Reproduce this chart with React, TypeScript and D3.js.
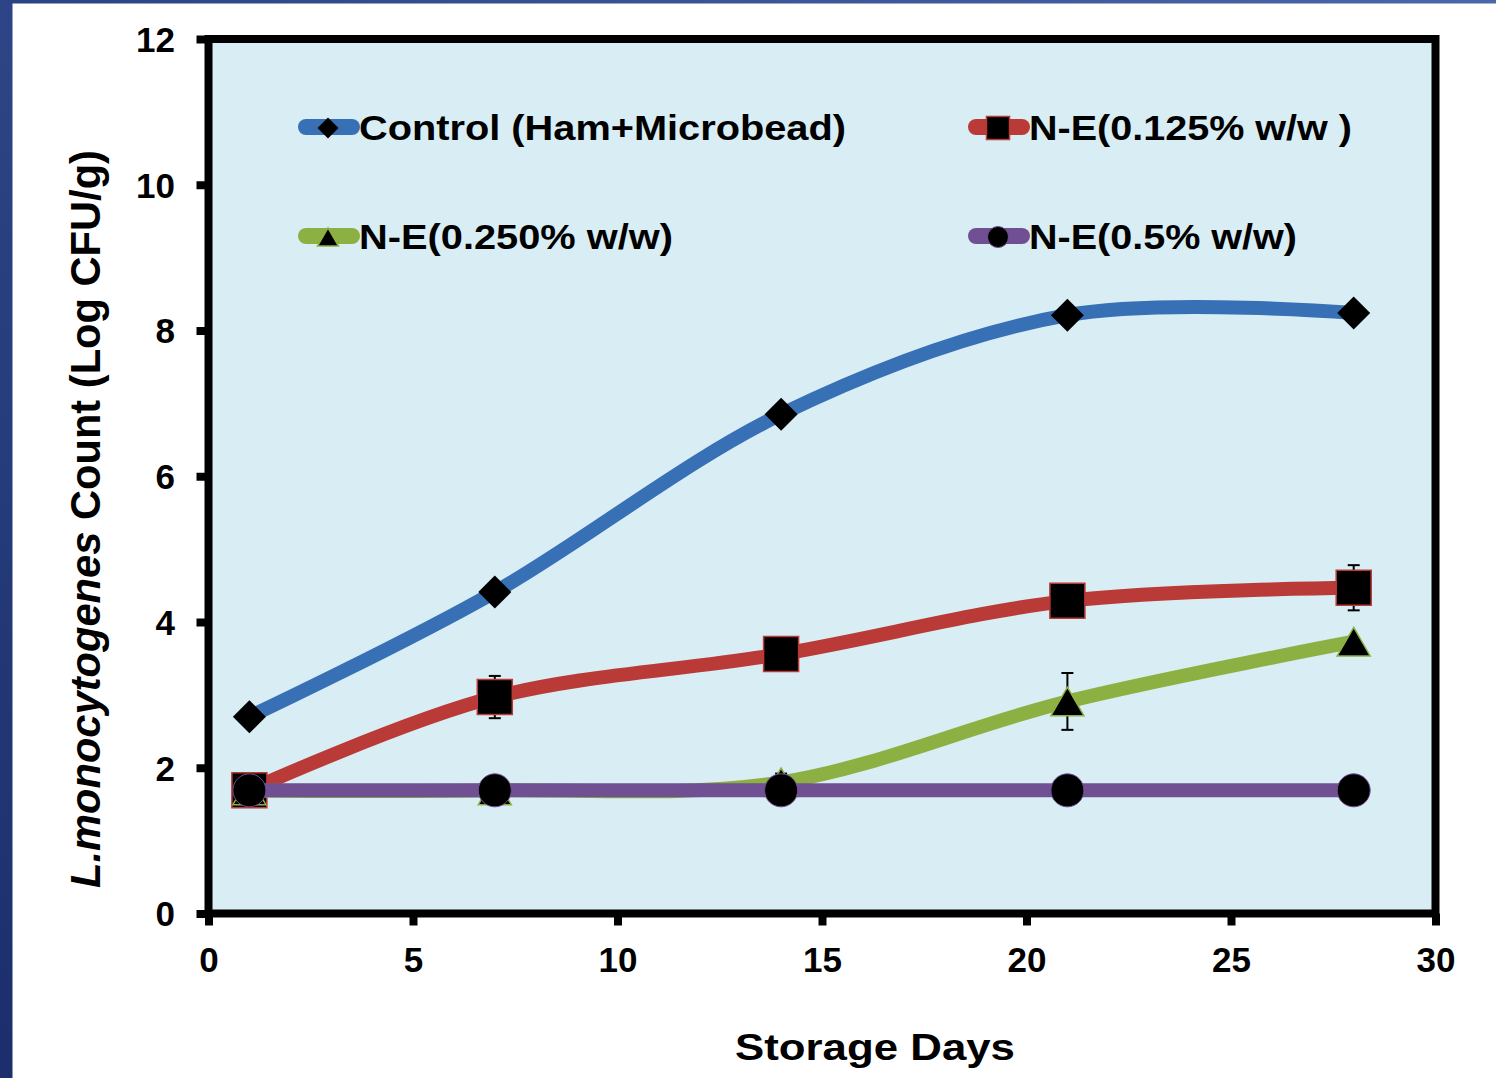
import { useEffect, useRef } from 'react';
import * as d3 from 'd3';

const WIDTH = 1496;
const HEIGHT = 1078;
const MARGIN = { top: 39, right: 60.5, bottom: 164.5, left: 208.5 };
const FONT = '"Liberation Sans", Arial, sans-serif';

// data
const days = [1, 7, 14, 21, 28];
const control = [2.7, 4.41, 6.85, 8.21, 8.24];
const ne0125 = [1.69, 2.97, 3.56, 4.29, 4.47];
const ne0125Err = [0, 0.29, 0, 0, 0.31];
const ne0250 = [1.69, 1.69, 1.8, 2.91, 3.73];
const ne0250Err = [0, 0, 0.12, 0.39, 0];
const ne05 = [1.69, 1.69, 1.69, 1.69, 1.69];

const xTicks = [0, 5, 10, 15, 20, 25, 30];
const yTicks = [0, 2, 4, 6, 8, 10, 12];

const color = {
  plotBg: '#d9edf4',
  blue: '#3870b6',
  red: '#b93a36',
  green: '#8cb042',
  purple: '#704f92',
};

type Shape = 'diamond' | 'square' | 'triangle' | 'circle';

type Series = {
  name: string;
  values: number[];
  errors: number[] | null;
  color: string;
  shape: Shape;
  legend: { x: number; y: number; textWidth: number };
};

const series: Series[] = [
  { name: 'Control (Ham+Microbead)', values: control, errors: null, color: color.blue, shape: 'diamond', legend: { x: 298, y: 127, textWidth: 487 } },
  { name: 'N-E(0.125% w/w )', values: ne0125, errors: ne0125Err, color: color.red, shape: 'square', legend: { x: 968, y: 127, textWidth: 323 } },
  { name: 'N-E(0.250% w/w)', values: ne0250, errors: ne0250Err, color: color.green, shape: 'triangle', legend: { x: 298, y: 236, textWidth: 314 } },
  { name: 'N-E(0.5% w/w)', values: ne05, errors: null, color: color.purple, shape: 'circle', legend: { x: 968, y: 236, textWidth: 268 } },
];

// marker widths in px: plot / legend
const markerWidth = { plot: 33, legend: 21 };

function Marker({ shape, cx, cy, w, stroke }: { shape: Shape; cx: number; cy: number; w: number; stroke: string }) {
  if (shape === 'diamond') {
    const side = w / Math.SQRT2;
    const d = d3.symbol(d3.symbolSquare, side * side)() || '';
    return <path d={d} transform={`translate(${cx},${cy}) rotate(45)`} fill="#000" />;
  }
  if (shape === 'square') {
    const s = w + 2;
    const d = d3.symbol(d3.symbolSquare, s * s)() || '';
    return <path d={d} transform={`translate(${cx},${cy})`} fill="#000" stroke={stroke} strokeWidth={1.5} />;
  }
  if (shape === 'triangle') {
    const r = w / (2 * Math.sqrt(3));
    const d = d3.symbol(d3.symbolTriangle, r * r * 3 * Math.sqrt(3))() || '';
    return <path d={d} transform={`translate(${cx},${cy + r * 0.5})`} fill="#000" stroke={stroke} strokeWidth={1.5} />;
  }
  const d = d3.symbol(d3.symbolCircle, Math.PI * (w / 2) * (w / 2))() || '';
  return <path d={d} transform={`translate(${cx},${cy})`} fill="#000" stroke={stroke} strokeWidth={1} />;
}

const App = () => {
  const xAxisRef = useRef<SVGGElement>(null);
  const yAxisRef = useRef<SVGGElement>(null);

  const boundsWidth = WIDTH - MARGIN.left - MARGIN.right;
  const boundsHeight = HEIGHT - MARGIN.top - MARGIN.bottom;

  const xScale = d3.scaleLinear().domain([0, 30]).range([0, boundsWidth]);
  const yScale = d3.scaleLinear().domain([0, 12]).range([boundsHeight, 0]);

  const line = d3
    .line<number>()
    .curve(d3.curveCardinal.tension(0))
    .x((_, i) => xScale(days[i]))
    .y(v => yScale(v));

  useEffect(() => {
    const xAxis = d3.select(xAxisRef.current);
    xAxis.selectAll('*').remove();
    xAxis.call(d3.axisBottom(xScale).tickValues(xTicks).tickSize(12).tickSizeOuter(0));
    xAxis.select('.domain').remove();
    xAxis.selectAll('.tick line').attr('stroke', '#000').attr('stroke-width', 8);
    xAxis
      .selectAll('.tick text')
      .attr('y', 46.5)
      .attr('dy', '0.35em')
      .attr('fill', '#000')
      .attr('font-family', FONT)
      .attr('font-weight', 700)
      .attr('font-size', 35);

    const yAxis = d3.select(yAxisRef.current);
    yAxis.selectAll('*').remove();
    yAxis.call(d3.axisLeft(yScale).tickValues(yTicks).tickSize(12).tickSizeOuter(0));
    yAxis.select('.domain').remove();
    yAxis.selectAll('.tick line').attr('stroke', '#000').attr('stroke-width', 8);
    yAxis
      .selectAll('.tick text')
      .attr('x', -33.5)
      .attr('dy', '0.35em')
      .attr('fill', '#000')
      .attr('font-family', FONT)
      .attr('font-weight', 700)
      .attr('font-size', 35);
  }, []);

  return (
    <div style={{ position: 'absolute', left: 0, top: 0 }}>
      <svg width={WIDTH} height={HEIGHT} style={{ display: 'block', background: '#fff' }}>
        <defs>
          <linearGradient id="leftBand" x1="0" x2="0" y1="0" y2="1">
            <stop offset="0" stopColor="#2d4586" />
            <stop offset="1" stopColor="#1c2e6c" />
          </linearGradient>
          <linearGradient id="topBand" x1="0" x2="1" y1="0" y2="0">
            <stop offset="0" stopColor="#2c4383" />
            <stop offset="1" stopColor="#4a67a8" />
          </linearGradient>
        </defs>
        <rect x={0} y={0} width={WIDTH} height={3.5} fill="url(#topBand)" />
        <rect x={0} y={0} width={12.5} height={HEIGHT} fill="url(#leftBand)" />

        <g transform={`translate(${MARGIN.left},${MARGIN.top})`}>
          <rect x={0} y={0} width={boundsWidth} height={boundsHeight} fill={color.plotBg} />

          {series.map(s => (
            <g key={s.name}>
              <path d={line(s.values) || ''} fill="none" stroke={s.color} strokeWidth={14} strokeLinejoin="round" />
              {s.errors &&
                s.errors.map((e, i) =>
                  e > 0 ? (
                    <g key={i} stroke="#000" strokeWidth={2}>
                      <line x1={xScale(days[i])} x2={xScale(days[i])} y1={yScale(s.values[i] + e)} y2={yScale(s.values[i] - e)} />
                      <line x1={xScale(days[i]) - 6} x2={xScale(days[i]) + 6} y1={yScale(s.values[i] + e)} y2={yScale(s.values[i] + e)} />
                      <line x1={xScale(days[i]) - 6} x2={xScale(days[i]) + 6} y1={yScale(s.values[i] - e)} y2={yScale(s.values[i] - e)} />
                    </g>
                  ) : null,
                )}
              {s.values.map((v, i) => (
                <Marker key={i} shape={s.shape} cx={xScale(days[i])} cy={yScale(v)} w={markerWidth.plot} stroke={s.color} />
              ))}
            </g>
          ))}

          <rect x={0} y={0} width={boundsWidth} height={boundsHeight} fill="none" stroke="#000" strokeWidth={8} />
          <g ref={xAxisRef} transform={`translate(0,${boundsHeight})`} />
          <g ref={yAxisRef} />
        </g>

        {/* legend */}
        {series.map(s => (
          <g key={s.name}>
            <line x1={s.legend.x + 8} x2={s.legend.x + 54} y1={s.legend.y} y2={s.legend.y} stroke={s.color} strokeWidth={16} strokeLinecap="round" />
            <Marker shape={s.shape} cx={s.legend.x + 30} cy={s.legend.y + 1} w={markerWidth.legend} stroke={s.color} />
            <text
              x={s.legend.x + 61}
              y={s.legend.y}
              dy="0.36em"
              fontFamily={FONT}
              fontWeight={700}
              fontSize={35}
              textLength={s.legend.textWidth}
              lengthAdjust="spacingAndGlyphs"
            >
              {s.name}
            </text>
          </g>
        ))}

        {/* axis titles */}
        <text x={735} y={1060} fontFamily={FONT} fontWeight={700} fontSize={37} textLength={280} lengthAdjust="spacingAndGlyphs">
          Storage Days
        </text>
        <text
          transform="translate(100,888) rotate(-90)"
          fontFamily={FONT}
          fontWeight={700}
          fontSize={42}
          textLength={738}
          lengthAdjust="spacingAndGlyphs"
        >
          <tspan fontStyle="italic">L.monocytogenes</tspan>
          <tspan> Count (Log CFU/g)</tspan>
        </text>
      </svg>
    </div>
  );
};

export default App;
